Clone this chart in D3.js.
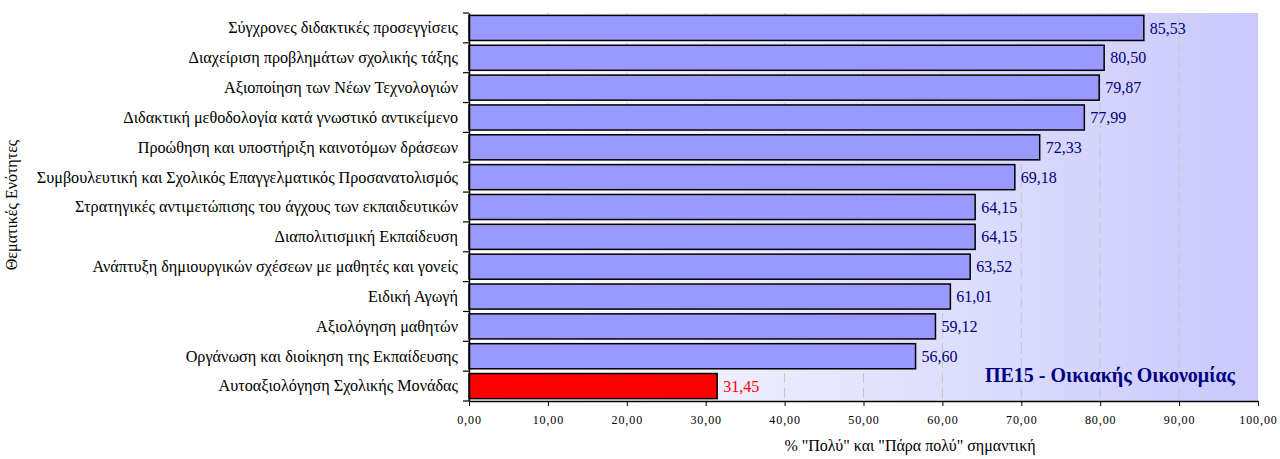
<!DOCTYPE html>
<html><head><meta charset="utf-8">
<script src="https://cdn.jsdelivr.net/npm/d3@7"></script>
<style>body{margin:0;background:#fff}svg{display:block}text{font-family:"Liberation Serif","Times New Roman",serif}</style>
</head><body><svg id="c" width="1280" height="459"></svg>
<script>
const categories = [
 "Σύγχρονες διδακτικές προσεγγίσεις",
 "Διαχείριση προβλημάτων σχολικής τάξης",
 "Αξιοποίηση των Νέων Τεχνολογιών",
 "Διδακτική μεθοδολογία κατά γνωστικό αντικείμενο",
 "Προώθηση και υποστήριξη καινοτόμων δράσεων",
 "Συμβουλευτική και Σχολικός Επαγγελματικός Προσανατολισμός",
 "Στρατηγικές αντιμετώπισης του άγχους των εκπαιδευτικών",
 "Διαπολιτισμική Εκπαίδευση",
 "Ανάπτυξη δημιουργικών σχέσεων με μαθητές και γονείς",
 "Ειδική Αγωγή",
 "Αξιολόγηση μαθητών",
 "Οργάνωση και διοίκηση της Εκπαίδευσης",
 "Αυτοαξιολόγηση Σχολικής Μονάδας"
];
const values = [85.53, 80.50, 79.87, 77.99, 72.33, 69.18, 64.15, 64.15, 63.52, 61.01, 59.12, 56.60, 31.45];
const highlighted = ["Αυτοαξιολόγηση Σχολικής Μονάδας"];
const xTicks = [0,10,20,30,40,50,60,70,80,90,100];
const title = "ΠΕ15 - Οικιακής Οικονομίας";
const xTitle = '% "Πολύ" και "Πάρα πολύ" σημαντική';
const yTitle = "Θεματικές Ενότητες";

const L = 469, R = 1258, T = 13, B = 401;
const svg = d3.select("#c");
const fmt = v => d3.format(".2f")(v).replace(".", ",");
const x = d3.scaleLinear().domain([0,100]).range([L,R]);
const y = d3.scaleBand().domain(categories).range([T,B]).paddingInner(0.16).paddingOuter(0.08);

const defs = svg.append("defs");
const g = defs.append("linearGradient").attr("id","bg").attr("x1","0").attr("x2","1").attr("y1","0").attr("y2","0");
g.append("stop").attr("offset","0").attr("stop-color","#ffffff");
g.append("stop").attr("offset","1").attr("stop-color","#c9c9fc");
svg.append("rect").attr("x",L).attr("y",T).attr("width",R-L).attr("height",B-T).attr("fill","url(#bg)");

// grid
svg.append("g").selectAll("line").data(xTicks.slice(1,-1)).join("line")
 .attr("x1",d=>x(d)).attr("x2",d=>x(d)).attr("y1",T).attr("y2",B)
 .attr("stroke","#c4c4cc").attr("stroke-width",1).attr("stroke-dasharray","10,5");

// bars
svg.append("g").selectAll("rect").data(categories).join("rect")
 .attr("x",x(0)).attr("y",d=>y(d)).attr("height",y.bandwidth())
 .attr("width",(d,i)=>x(values[i])-x(0))
 .attr("fill",d=>highlighted.includes(d)?"#ff0000":"#9999ff")
 .attr("stroke","#000").attr("stroke-width",1.5);

// value labels
svg.append("g").selectAll("text").data(categories).join("text")
 .attr("x",(d,i)=>x(values[i])+6).attr("y",d=>y(d)+y.bandwidth()/2).attr("dy","0.35em")
 .attr("font-size",16).attr("fill",d=>highlighted.includes(d)?"#ff0000":"#000080")
 .text((d,i)=>fmt(values[i]));

// axes
const xa = svg.append("g").attr("transform",`translate(0,${B})`)
 .call(d3.axisBottom(x).tickValues(xTicks).tickFormat(fmt).tickSize(5).tickSizeOuter(0));
xa.select(".domain").attr("stroke","#000").attr("stroke-width",1.5);
xa.selectAll(".tick line").attr("stroke","#000");
xa.selectAll("text").attr("font-size",12).attr("letter-spacing","0.9px").attr("fill","#000").attr("y",null).attr("dy",null).attr("y",23);

const ya = svg.append("g").attr("transform",`translate(${L},0)`)
 .call(d3.axisLeft(y).tickSize(0).tickPadding(11));
ya.select(".domain").attr("stroke","#000").attr("stroke-width",1.5);
ya.selectAll("text").attr("font-size",16.2).attr("fill","#000").attr("dy","0.33em");
// band boundary ticks
const bounds = categories.map(d=>y(d)-y.step()*y.paddingInner()/2).concat([B]);
svg.append("g").selectAll("line").data(bounds).join("line")
 .attr("x1",L-6).attr("x2",L).attr("y1",d=>d).attr("y2",d=>d).attr("stroke","#000").attr("stroke-width",1.2);

svg.append("text").attr("x",1235).attr("y",382).attr("text-anchor","end")
 .attr("font-size",20).attr("font-weight","bold").attr("fill","#000080").text(title);
svg.append("text").attr("x",910).attr("y",451).attr("text-anchor","middle").attr("font-size",16).attr("fill","#000").text(xTitle);
svg.append("text").attr("transform","translate(17,205) rotate(-90)").attr("text-anchor","middle").attr("font-size",16).attr("fill","#000").text(yTitle);
</script></body></html>
